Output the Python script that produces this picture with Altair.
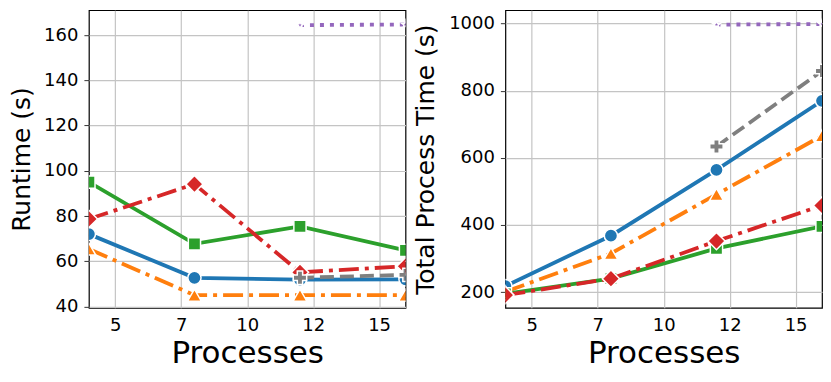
import altair as alt
import pandas as pd

# ---- data ----
processes = [4, 8, 12, 16]
series_names = ["A", "B", "C", "D", "E", "F"]

runtime_A = [72.0, 52.7, 51.9, 52.0]
runtime_B = [65.4, 45.0, 45.0, 45.0]
runtime_C = [95.0, 67.7, 75.4, 64.8]
runtime_D = [78.7, 94.1, 55.1, 57.8]
runtime_E = [None, None, 52.7, 54.0]
runtime_F = [None, None, 164.4, 164.7]

total_A = [218, 368, 564, 770]
total_B = [201, 315, 491, 666]
total_C = [195, 240, 330, 396]
total_D = [191, 240, 352, 458]
total_E = [None, None, 634, 859]
total_F = [None, None, 997, 999]

x_ticks = [5, 7.5, 10, 12.5, 15]
runtime_ticks = [40, 60, 80, 100, 120, 140, 160]
total_ticks = [200, 400, 600, 800, 1000]

runtime = dict(zip(series_names, [runtime_A, runtime_B, runtime_C, runtime_D, runtime_E, runtime_F]))
total = dict(zip(series_names, [total_A, total_B, total_C, total_D, total_E, total_F]))

STAR = ("M0,-1L0.2245,-0.309L0.9511,-0.309L0.3633,0.118L0.5878,0.809L0,0.382"
        "L-0.5878,0.809L-0.3633,0.118L-0.9511,-0.309L-0.2245,-0.309Z")

style = {
    "A": dict(color="#1f77b4", dash=None, shape="circle", size=175),
    "B": dict(color="#ff7f0e", dash=[20, 6, 4, 6], shape="triangle-up", size=190),
    "C": dict(color="#2ca02c", dash=None, shape="square", size=150),
    "D": dict(color="#d62728", dash=[20, 6, 4, 6], shape="diamond", size=300),
    "E": dict(color="#7f7f7f", dash=[14, 6], shape="cross", size=180),
    "F": dict(color="#9467bd", dash=[4, 6], shape=STAR, size=70),
}


def panel(values, ydomain, yticks, ytitle, title_pad):
    x = alt.X("Processes:Q",
              scale=alt.Scale(domain=[4, 16], nice=False, zero=False),
              axis=alt.Axis(values=x_ticks, labelExpr="floor(datum.value)",
                            title="Processes", titleFontSize=31,
                            ticks=False, labelPadding=9, titlePadding=4))
    y = alt.Y("v:Q",
              scale=alt.Scale(domain=ydomain, nice=False, zero=False),
              axis=alt.Axis(values=yticks, format="d", title=ytitle, titleFontSize=25,
                            tickSize=5, labelPadding=6, titlePadding=title_pad))
    layers = []
    for s in series_names:
        df = pd.DataFrame({"Processes": processes, "v": values[s]}).dropna()
        st = style[s]
        base = alt.Chart(df)
        line_kw = dict(color=st["color"], strokeWidth=3.8, clip=True, strokeCap="butt")
        if st["dash"]:
            line_kw["strokeDash"] = st["dash"]
        layers.append(base.mark_line(**line_kw).encode(x=x, y=y))
        layers.append(base.mark_point(shape=st["shape"], filled=True, fill=st["color"],
                                      stroke="white", strokeWidth=1.5, size=st["size"],
                                      opacity=1, clip=True).encode(x=x, y=y))
    return alt.layer(*layers).properties(width=317, height=298)


left = panel(runtime, [39.4, 171], runtime_ticks, "Runtime (s)", 9)
right = panel(total, [153, 1040], total_ticks, "Total Process Time (s)", 10)

chart = alt.hconcat(left, right, spacing=6).properties(
    padding={"top": 1, "left": 1, "right": 0, "bottom": 0}
).configure(font="DejaVu Sans").configure_view(
    stroke="black", strokeWidth=1.2
).configure_axis(
    labelFontSize=18, labelColor="black", titleColor="black",
    titleFontWeight="normal", domain=False, grid=True,
    gridColor="#c4c4c4", gridWidth=1.2, tickColor="#333333",
    labelFont="DejaVu Sans", titleFont="DejaVu Sans"
)

chart.save("out.html", embed_options={"renderer": "svg", "actions": False})
